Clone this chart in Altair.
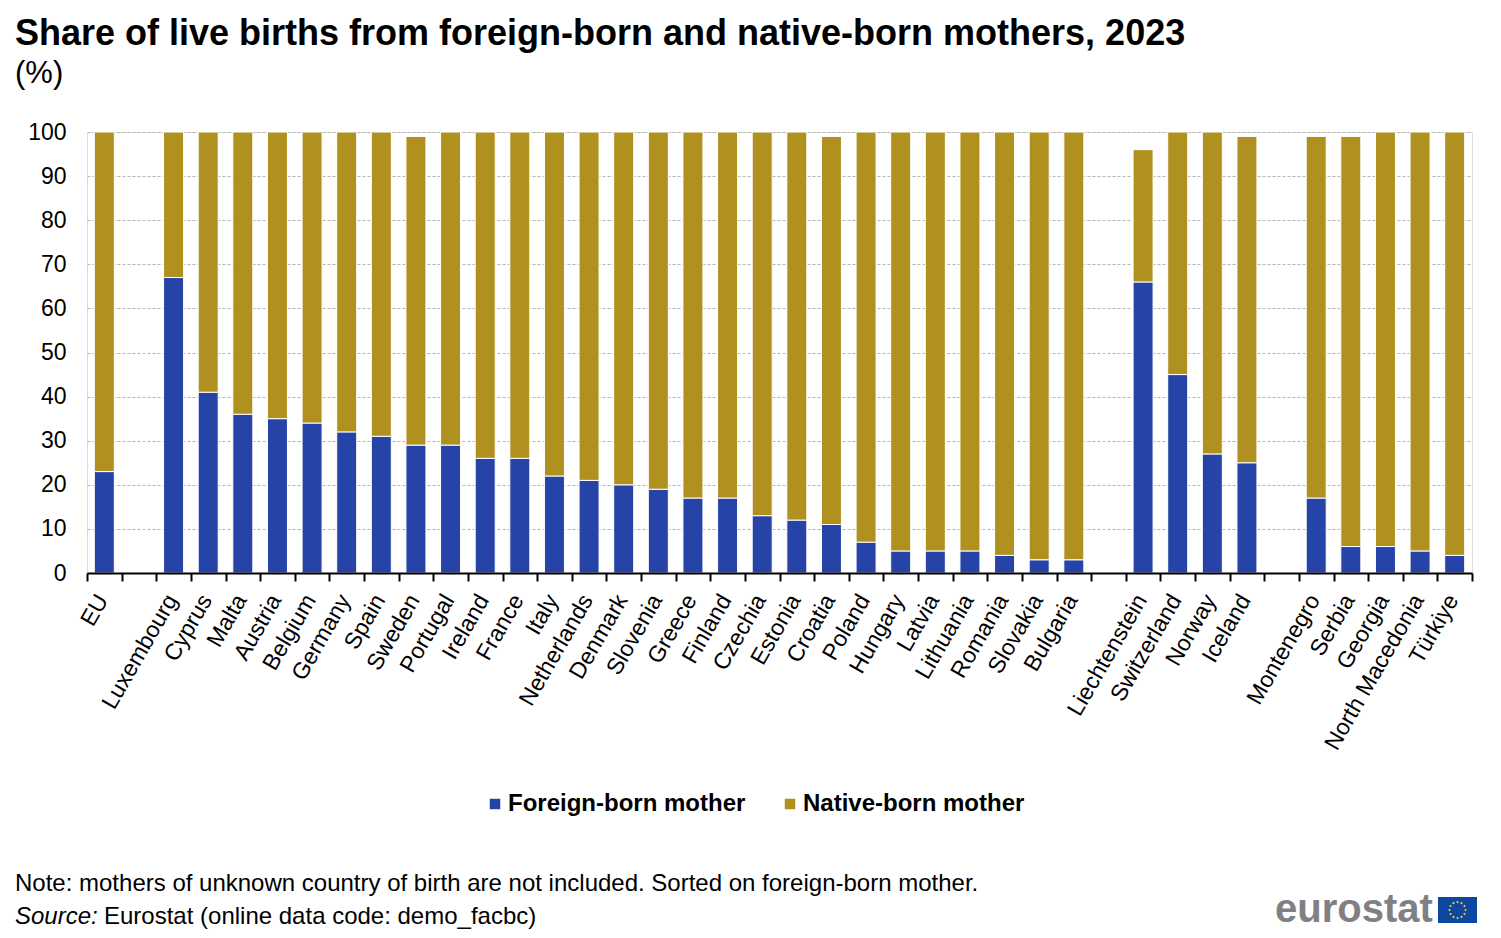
import math
import altair as alt
import pandas as pd

FONT = "Liberation Sans"
categories = ["EU", " ", "Luxembourg", "Cyprus", "Malta", "Austria", "Belgium", "Germany", "Spain", "Sweden",
              "Portugal", "Ireland", "France", "Italy", "Netherlands", "Denmark", "Slovenia", "Greece", "Finland",
              "Czechia", "Estonia", "Croatia", "Poland", "Hungary", "Latvia", "Lithuania", "Romania", "Slovakia",
              "Bulgaria", "  ", "Liechtenstein", "Switzerland", "Norway", "Iceland", "   ", "Montenegro", "Serbia",
              "Georgia", "North Macedonia", "Türkiye"]
foreign = [23, None, 67, 41, 36, 35, 34, 32, 31, 29, 29, 26, 26, 22, 21, 20, 19, 17, 17, 13, 12, 11, 7, 5, 5, 5, 4, 3, 3,
           None, 66, 45, 27, 25, None, 17, 6, 6, 5, 4]
native = [77, None, 33, 59, 64, 65, 66, 68, 69, 70, 71, 74, 74, 78, 79, 80, 81, 83, 83, 87, 88, 88, 93, 95, 95, 95, 96, 97, 97,
          None, 30, 55, 73, 74, None, 82, 93, 94, 95, 96]
series = ["Foreign-born mother", "Native-born mother"]
colors = ["#2644a7", "#b09120"]
yticks = list(range(0, 101, 10))

rows = []
for c, f, n in zip(categories, foreign, native):
    if f is not None:
        rows.append({"country": c, "series": series[0], "share": f, "rank": 0})
        rows.append({"country": c, "series": series[1], "share": n, "rank": 1})
df = pd.DataFrame(rows)

bars = alt.Chart(df).mark_bar(stroke="white", strokeWidth=1, size=20).encode(
    x=alt.X("country:N", sort=categories,
            scale=alt.Scale(domain=categories, paddingInner=0, paddingOuter=0),
            axis=alt.Axis(title=None, labelAngle=300, labelFont=FONT, labelFontSize=23, labelColor="#000000",
                          labelPadding=15, labelOffset=-2, labelOverlap=False, labelLimit=400, grid=False,
                          tickBand="extent", zindex=1,
                          domainColor="#000000", domainWidth=2, tickColor="#000000", tickWidth=2, tickSize=8)),
    y=alt.Y("share:Q", stack="zero", scale=alt.Scale(domain=[0, 100], nice=False),
            axis=alt.Axis(title=None, values=yticks, labelFont=FONT, labelFontSize=23, labelColor="#000000",
                          labelPadding=21, ticks=False, domain=False, grid=True, gridColor="#b5b5b5",
                          gridDash=[3, 2], gridWidth=1)),
    color=alt.Color("series:N", scale=alt.Scale(domain=series, range=colors),
                    legend=alt.Legend(title=None, orient="none", legendX=396, legendY=660, direction="horizontal",
                                      symbolType="square", symbolSize=110, symbolStrokeWidth=0,
                                      labelFont=FONT, labelFontSize=24, labelFontWeight="bold", labelColor="#000000",
                                      labelLimit=400, columnPadding=32, labelOffset=1)),
    order=alt.Order("rank:Q"),
)


def label(px, py, text, size=24, color="#000000", style="normal", weight="normal"):
    return alt.Chart(alt.Data(values=[{"t": text}])).mark_text(
        align="left", baseline="alphabetic", font=FONT, fontSize=size, color=color, fontStyle=style, fontWeight=weight
    ).encode(x=alt.value(px - 87), y=alt.value(py - 132), text="t:N")


texts = [
    label(15, 891, "Note: mothers of unknown country of birth are not included. Sorted on foreign-born mother."),
    label(15, 924, "Source:", style="italic"),
    label(104, 924, "Eurostat (online data code: demo_facbc)"),
    label(1275, 922, "eurostat", size=40, color="#7f8084", weight="bold"),
]
flag = alt.Chart(alt.Data(values=[{"k": 1}])).mark_rect(color="#0e47a1").encode(
    x=alt.value(1438 - 87), x2=alt.value(1477 - 87), y=alt.value(897 - 132), y2=alt.value(923 - 132))
stars = [
    alt.Chart(alt.Data(values=[{"k": i}])).mark_point(shape="diamond", filled=True, color="#f5d90a", size=7, opacity=1).encode(
        x=alt.value(1457.5 - 87 + 8 * math.sin(i * math.pi / 6)),
        y=alt.value(910 - 132 - 8 * math.cos(i * math.pi / 6)))
    for i in range(12)
]

chart = alt.layer(bars, *texts, flag, *stars).properties(
    width=1385, height=441,
    padding={"left": 79, "top": 124, "right": 21, "bottom": 357},
    autosize=alt.AutoSizeParams(type="none"),
    title=alt.TitleParams(
        "Share of live births from foreign-born and native-born mothers, 2023",
        subtitle="(%)", anchor="start", frame="group", dx=-72, offset=31,
        font=FONT, fontSize=36, fontWeight="bold", color="#000000", limit=1400,
        subtitleFont=FONT, subtitleFontSize=31, subtitleColor="#000000", subtitlePadding=6),
).configure_view(stroke=None).configure(background="#ffffff")

chart.save("out.html", embed_options={"renderer": "svg", "actions": False})
